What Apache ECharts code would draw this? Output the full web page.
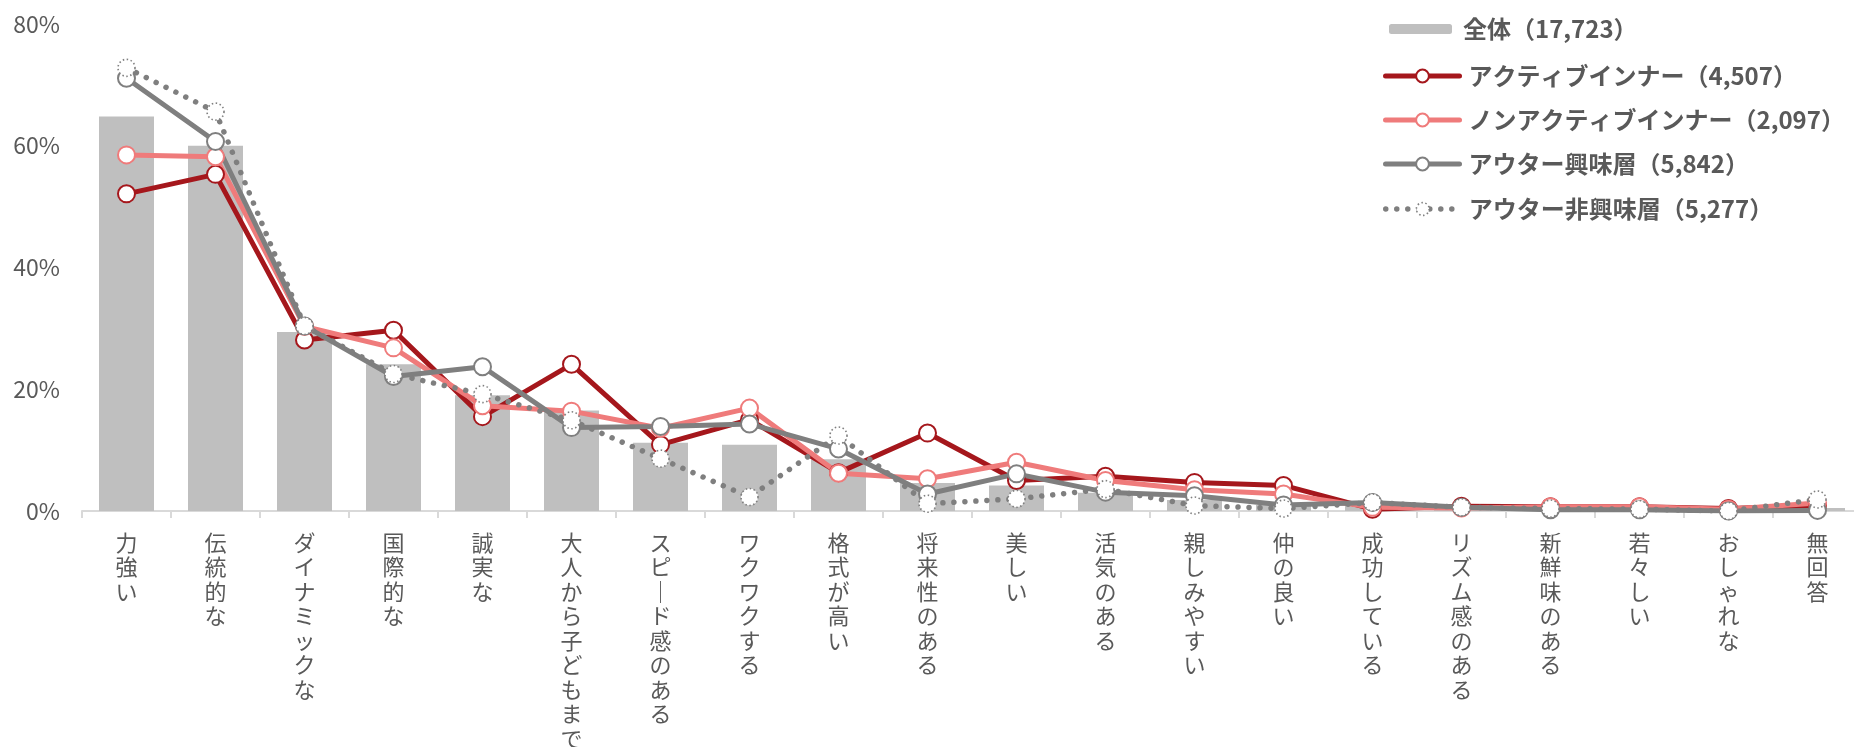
<!DOCTYPE html>
<html>
<head>
<meta charset="utf-8">
<script src="https://cdn.jsdelivr.net/npm/echarts@6/dist/echarts.min.js"></script>
<style>
html,body{margin:0;padding:0;background:#fff;}
#chart{width:1854px;height:747px;}
</style>
</head>
<body>
<div id="chart"></div>
<script>
const categories = ['力強い','伝統的な','ダイナミックな','国際的な','誠実な','大人から子どもまで','スピード感のある','ワクワクする','格式が高い','将来性のある','美しい','活気のある','親しみやすい','仲の良い','成功している','リズム感のある','新鮮味のある','若々しい','おしゃれな','無回答'];
const seriesNames = ['全体（17,723）','アクティブインナー（4,507）','ノンアクティブインナー（2,097）','アウター興味層（5,842）','アウター非興味層（5,277）'];
const totalAll = [64.8, 60.0, 29.4, 24.1, 19.0, 16.5, 11.2, 10.9, 8.5, 4.6, 4.2, 3.0, 1.8, 1.0, 1.2, 0.5, 0.3, 0.3, 0.2, 0.5];
const activeInner = [52.1, 55.3, 28.1, 29.7, 15.5, 24.1, 10.9, 15.0, 6.3, 12.8, 5.0, 5.7, 4.7, 4.2, 0.3, 0.8, 0.7, 0.7, 0.4, 0.9];
const nonActiveInner = [58.5, 58.2, 30.3, 26.8, 17.3, 16.4, 13.6, 16.9, 6.2, 5.3, 8.0, 5.0, 3.5, 2.8, 0.6, 0.5, 0.7, 0.7, 0.3, 1.3];
const outerInterested = [71.1, 60.7, 30.4, 22.1, 23.7, 13.7, 13.9, 14.3, 10.2, 2.8, 6.1, 3.1, 2.5, 1.0, 1.4, 0.6, 0.2, 0.2, 0.0, 0.1];
const outerNotInterested = [72.8, 65.6, 30.4, 22.5, 19.2, 14.9, 8.6, 2.3, 12.4, 1.2, 2.0, 3.6, 0.9, 0.4, 1.4, 0.6, 0.4, 0.3, 0.0, 1.9];
const yTicks = [0, 20, 40, 60, 80];

const FONT = '"Noto Sans CJK JP", "Noto Sans", sans-serif';
const TXT = '#595959';
const RED = '#A5171C';
const PINK = '#EF7B7B';
const GRAY = '#7F7F7F';
const BAR = '#BFBFBF';

const chart = echarts.init(document.getElementById('chart'), null, {renderer: 'canvas'});

function lineStyleOf(color, dotted) {
  return dotted
    ? {color: color, width: 5.5, type: [0.01, 11], cap: 'round'}
    : {color: color, width: 5, cap: 'round'};
}
function itemStyleOf(color, dotted) {
  return dotted
    ? {color: '#fff', borderColor: color, borderWidth: 1.6, borderType: [1.5, 2.5]}
    : {color: '#fff', borderColor: color, borderWidth: 2};
}
const lineColors = [null, RED, PINK, GRAY, GRAY];
const lineDotted = [false, false, false, false, true];

function lineSeries(i, data) {
  return {
    name: seriesNames[i],
    type: 'line',
    data: data,
    symbol: 'circle',
    symbolSize: 17,
    lineStyle: lineStyleOf(lineColors[i], lineDotted[i]),
    itemStyle: itemStyleOf(lineColors[i], lineDotted[i]),
    emphasis: {disabled: true},
    z: 3
  };
}

const legendRowsY = [29, 76, 120, 164, 209];
const legendText = {color: TXT, fontSize: 24, fontWeight: 'bold', fontFamily: FONT, lineHeight: 26};

const legends = seriesNames.map((n, i) => {
  const lg = {
    data: [n],
    orient: 'vertical',
    left: i === 0 ? 1389 : 1383,
    top: legendRowsY[i] - 13,
    padding: 0,
    itemWidth: i === 0 ? 63 : 74,
    itemHeight: i === 0 ? 10 : 16,
    textStyle: Object.assign({}, legendText, {padding: [0, 0, 0, i === 0 ? 6 : 4]}),
    selectedMode: false
  };
  if (i > 0) {
    lg.lineStyle = lineStyleOf(lineColors[i], lineDotted[i]);
    lg.itemStyle = itemStyleOf(lineColors[i], lineDotted[i]);
  }
  return lg;
});

chart.setOption({
  animation: false,
  backgroundColor: '#fff',
  textStyle: {fontFamily: FONT},
  legend: legends,
  grid: {left: 82, width: 1780, top: 24, bottom: 236, containLabel: false, outerBoundsMode: 'none'},
  xAxis: {
    type: 'category',
    data: categories,
    boundaryGap: true,
    axisLine: {show: true, lineStyle: {color: '#D9D9D9', width: 2}},
    axisTick: {show: true, length: 7, lineStyle: {color: '#D9D9D9', width: 2}},
    axisLabel: {
      interval: 0,
      margin: 19,
      color: TXT,
      fontSize: 22,
      lineHeight: 24.5,
      fontFamily: FONT,
      verticalAlign: 'top',
      hideOverlap: false,
      formatter: v => v.split('').map(c => c === 'ー' ? '｜' : c).join('\n')
    }
  },
  yAxis: {
    type: 'value',
    min: yTicks[0],
    max: yTicks[yTicks.length - 1],
    interval: yTicks[1] - yTicks[0],
    axisLine: {show: false},
    axisTick: {show: false},
    splitLine: {show: false},
    axisLabel: {
      formatter: '{value}%',
      color: TXT,
      fontSize: 23,
      fontFamily: FONT,
      margin: 22
    }
  },
  series: [
    {
      name: seriesNames[0],
      type: 'bar',
      data: totalAll,
      barWidth: 55,
      itemStyle: {color: BAR},
      emphasis: {disabled: true},
      z: 2
    },
    lineSeries(1, activeInner),
    lineSeries(2, nonActiveInner),
    lineSeries(3, outerInterested),
    lineSeries(4, outerNotInterested)
  ]
});
</script>
</body>
</html>
